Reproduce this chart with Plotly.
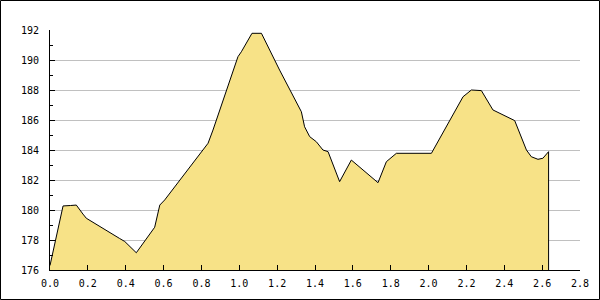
import plotly.graph_objects as go

# distance (x) and elevation (y)
dist = [0.0, 0.069, 0.109, 0.139, 0.174, 0.192, 0.368, 0.395, 0.456, 0.553, 0.580, 0.606,
        0.835, 0.861, 0.993, 1.011, 1.067, 1.117, 1.213, 1.240, 1.302, 1.328, 1.345, 1.372,
        1.407, 1.442, 1.469, 1.530, 1.592, 1.653, 1.680, 1.733, 1.777, 1.830, 2.015, 2.182,
        2.226, 2.279, 2.340, 2.455, 2.517, 2.543, 2.578, 2.604, 2.634]
elev = [176.3, 180.27, 180.3, 180.33, 179.73, 179.45, 178.1, 177.9, 177.15, 178.85, 180.33, 180.67,
        184.45, 185.33, 190.22, 190.55, 191.78, 191.78, 189.33, 188.67, 187.22, 186.55, 185.55, 184.89,
        184.55, 184.0, 183.89, 181.89, 183.33, 182.67, 182.33, 181.82, 183.22, 183.78, 183.78, 187.55,
        188.0, 187.96, 186.67, 185.96, 184.0, 183.55, 183.38, 183.45, 183.89]

y_min, y_max = 176, 192
x_min, x_max = 0.0, 2.8

xs = dist + [dist[-1]]
ys = elev + [y_min]

fig = go.Figure()
fig.add_trace(go.Scatter(
    x=xs, y=ys, mode="lines", fill="tozeroy",
    fillcolor="#f7e287", line=dict(color="black", width=1),
    hoverinfo="skip", showlegend=False,
))

W, H = 600, 300
ml, mr, mt, mb = 50, 20, 30, 30
pw, ph = W - ml - mr, H - mt - mb

fig.update_layout(
    width=W, height=H,
    margin=dict(l=ml, r=mr, t=mt, b=mb, pad=0),
    paper_bgcolor="white", plot_bgcolor="white",
    font=dict(family="DejaVu Sans Mono", size=10, color="black"),
    xaxis=dict(
        range=[x_min, x_max], dtick=0.2, tick0=0, tickformat=".1f",
        showgrid=False, zeroline=False,
        showline=True, linecolor="black", linewidth=1,
        ticks="inside", ticklen=5, tickcolor="black",
        ticklabelstandoff=4,
    ),
    yaxis=dict(
        range=[y_min, y_max], dtick=2, tick0=176,
        showgrid=True, gridcolor="#c0c0c0", gridwidth=1,
        zeroline=False,
        showline=True, linecolor="black", linewidth=1,
        ticks="inside", ticklen=5, tickcolor="black",
        ticklabelstandoff=8,
        minor=dict(dtick=1, ticks="inside", ticklen=3, tickcolor="black", showgrid=False),
    ),
    shapes=[dict(
        type="rect", xref="paper", yref="paper",
        x0=(0.5 - ml) / pw, x1=(W - 0.5 - ml) / pw,
        y0=(H - mt - (H - 0.5)) / ph, y1=(H - mt - 0.5) / ph,
        line=dict(color="black", width=1), fillcolor="rgba(0,0,0,0)", layer="above",
    )],
)

fig.write_html("out.html")
